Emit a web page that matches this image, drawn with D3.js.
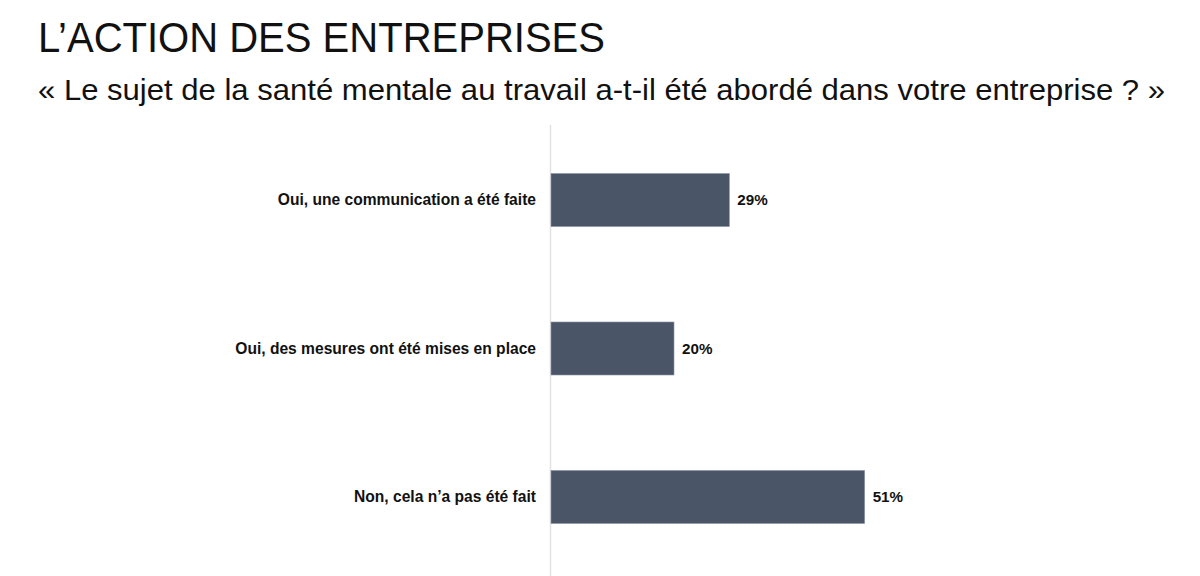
<!DOCTYPE html>
<html><head><meta charset="utf-8">
<script src="https://cdn.jsdelivr.net/npm/d3@7"></script>
<style>html,body{margin:0;padding:0;background:#fff;}svg{display:block;font-family:"Liberation Sans",Arial,Helvetica,sans-serif;}</style>
</head><body>
<svg id="c" width="1200" height="576"></svg>
<script>
const title = "L\u2019ACTION DES ENTREPRISES";
const subtitle = "\u00ab Le sujet de la sant\u00e9 mentale au travail a-t-il \u00e9t\u00e9 abord\u00e9 dans votre entreprise ? \u00bb";
const categories = ["Oui, une communication a \u00e9t\u00e9 faite", "Oui, des mesures ont \u00e9t\u00e9 mises en place", "Non, cela n\u2019a pas \u00e9t\u00e9 fait"];
const values = [29, 20, 51];

const svg = d3.select("#c");
svg.append("text").attr("x", 38).attr("y", 52).attr("font-size", 42).attr("fill", "#111")
  .attr("textLength", 567).attr("lengthAdjust", "spacingAndGlyphs").text(title);
svg.append("text").attr("x", 38).attr("y", 100).attr("font-size", 29).attr("fill", "#111")
  .attr("textLength", 1127).attr("lengthAdjust", "spacingAndGlyphs").text(subtitle);

const x = d3.scaleLinear().domain([0, 100]).range([551, 551 + 615]);
const y = d3.scaleBand().domain(categories).range([126, 571]).paddingInner(0.643).paddingOuter(0.32);

svg.append("line").attr("x1", 550.5).attr("x2", 550.5).attr("y1", 125).attr("y2", 576).attr("stroke", "#e2e2e2").attr("stroke-width", 1.5);

svg.selectAll("rect.bar").data(values).join("rect").attr("class", "bar")
  .attr("x", x(0)).attr("y", (d, i) => y(categories[i]))
  .attr("width", d => x(d) - x(0)).attr("height", y.bandwidth())
  .attr("fill", "#4a5568").attr("stroke", "#8a94a6").attr("stroke-width", 0.6);

svg.selectAll("text.cat").data(categories).join("text").attr("class", "cat")
  .attr("x", 536).attr("y", d => y(d) + y.bandwidth() / 2).attr("dy", "0.35em")
  .attr("text-anchor", "end").attr("font-size", 15.6).attr("font-weight", "bold").attr("fill", "#111").text(d => d);

svg.selectAll("text.val").data(values).join("text").attr("class", "val")
  .attr("x", d => x(d) + 8).attr("y", (d, i) => y(categories[i]) + y.bandwidth() / 2).attr("dy", "0.35em")
  .attr("font-size", 15.2).attr("font-weight", "bold").attr("fill", "#111").text(d => d + "%");
</script>
</body></html>
